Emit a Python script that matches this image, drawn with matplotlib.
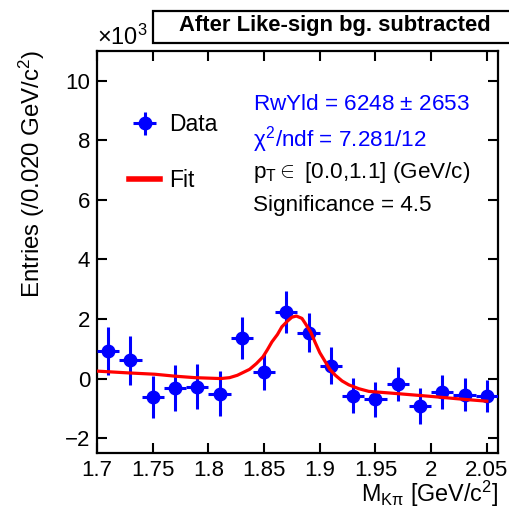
import matplotlib
matplotlib.use("Agg")
import matplotlib.pyplot as plt
from matplotlib.lines import Line2D
from matplotlib.patches import Rectangle

# ---- data (values in units of 10^3) ----
mass = [1.71, 1.73, 1.75, 1.77, 1.79, 1.81, 1.83, 1.85, 1.87, 1.89,
        1.91, 1.93, 1.95, 1.97, 1.99, 2.01, 2.03, 2.05]
entries = [0.93, 0.62, -0.62, -0.31, -0.27, -0.51, 1.36, 0.22, 2.23, 1.54,
           0.43, -0.57, -0.70, -0.18, -0.92, -0.46, -0.54, -0.58]
errors = [0.80, 0.82, 0.72, 0.77, 0.76, 0.75, 0.72, 0.62, 0.70, 0.66,
          0.62, 0.60, 0.60, 0.58, 0.59, 0.57, 0.56, 0.54]
bin_half = 0.01

fit_m = [1.700, 1.728, 1.752, 1.770, 1.788, 1.811, 1.819, 1.826, 1.837, 1.843,
         1.849, 1.853, 1.857, 1.862, 1.866, 1.871, 1.875, 1.879, 1.884, 1.887,
         1.892, 1.896, 1.900, 1.905, 1.909, 1.914, 1.920, 1.926, 1.935, 1.944,
         1.971, 2.000, 2.030, 2.050]
fit_y = [0.25, 0.19, 0.145, 0.08, 0.03, 0.00, 0.03, 0.11, 0.31, 0.50,
         0.73, 0.97, 1.23, 1.48, 1.74, 1.93, 2.06, 2.10, 2.02, 1.85,
         1.55, 1.20, 0.87, 0.56, 0.31, 0.11, -0.08, -0.21, -0.34, -0.43,
         -0.51, -0.60, -0.70, -0.76]

x_ticks = [1.7, 1.75, 1.8, 1.85, 1.9, 1.95, 2.0, 2.05]
x_tick_labels = ["1.7", "1.75", "1.8", "1.85", "1.9", "1.95", "2", "2.05"]
y_ticks = [-2, 0, 2, 4, 6, 8, 10]

title = "After Like-sign bg. subtracted"
info_lines = [
    (r"RwYld = 6248 $\pm$ 2653", "#0000ff"),
    (r"$\chi^{2}$/ndf = 7.281/12", "#0000ff"),
    (r"p$_{\mathregular{T}}\in$ [0.0,1.1] (GeV/c)", "black"),
    ("Significance = 4.5", "black"),
]

plt.rcParams['font.family'] = ['Liberation Sans', 'DejaVu Sans']
plt.rcParams['mathtext.fontset'] = 'custom'
plt.rcParams['mathtext.rm'] = 'Liberation Sans'
plt.rcParams['mathtext.it'] = 'Liberation Sans'
plt.rcParams['mathtext.sf'] = 'Liberation Sans'

W, H = 510, 508
fig = plt.figure(figsize=(W / 100, H / 100), dpi=100)
L, R, B, T = 97, 498, 453, 51
ax = fig.add_axes([L / W, 1 - B / H, (R - L) / W, (B - T) / H])

ax.errorbar(mass, entries, yerr=errors, xerr=bin_half, fmt='o', color='#0000ff',
            ms=9, elinewidth=2.2, capsize=0, zorder=3)
ax.plot(fit_m, fit_y, color='#ff0000', lw=2.3, zorder=4)

ax.set_xlim(1.7, 2.06)
ax.set_ylim(-2.5, 11.0)
ax.set_xticks(x_ticks)
ax.set_xticklabels(x_tick_labels)
ax.set_yticks(y_ticks)
ax.tick_params(direction='in', length=7, width=1.5, top=True, right=True,
               labelsize=16, pad=5)
for s in ax.spines.values():
    s.set_linewidth(1.6)

# axis labels
fig.text(32 / W, 1 - 174 / H, r"Entries (/0.020 GeV/c$^{2}$)", rotation=90,
         ha='center', va='center', fontsize=17.3)
fig.text(R / W, 1 - 494 / H, r"M$_{\mathregular{K\pi}}$ [GeV/c$^{2}$]",
         ha='right', va='center', fontsize=16.8)
fig.text(97 / W, 1 - 37 / H, r"$\times$10$^{3}$", ha='left', va='center', fontsize=17)

# title box
fig.patches.append(Rectangle((153 / W, 1 - 43 / H), (520 - 153) / W, 32 / H,
                             transform=fig.transFigure, fc='white', ec='black',
                             lw=1.6, clip_on=False))
fig.text(335 / W, 1 - 26 / H, title, ha='center', va='center', fontsize=15.8,
         fontweight='bold')

# legend
h_data = ax.errorbar([], [], yerr=[], xerr=[], fmt='o', color='#0000ff', ms=9,
                     elinewidth=2.2, capsize=0)
h_fit = Line2D([], [], color='#ff0000', lw=4)
leg = ax.legend([h_data, h_fit], ["Data", "Fit"], loc='upper left',
                bbox_to_anchor=(23 / (R - L), 1 - 53 / (B - T)), frameon=False,
                fontsize=16.5, handlelength=1.35, handletextpad=0.4, labelspacing=1.45,
                borderaxespad=0)

ys = [104, 140, 172, 205]
for (txt, col), yy in zip(info_lines, ys):
    fig.text(253 / W, 1 - yy / H, txt, color=col, ha='left', va='center', fontsize=16.2)

fig.savefig("out.png", dpi=100)
